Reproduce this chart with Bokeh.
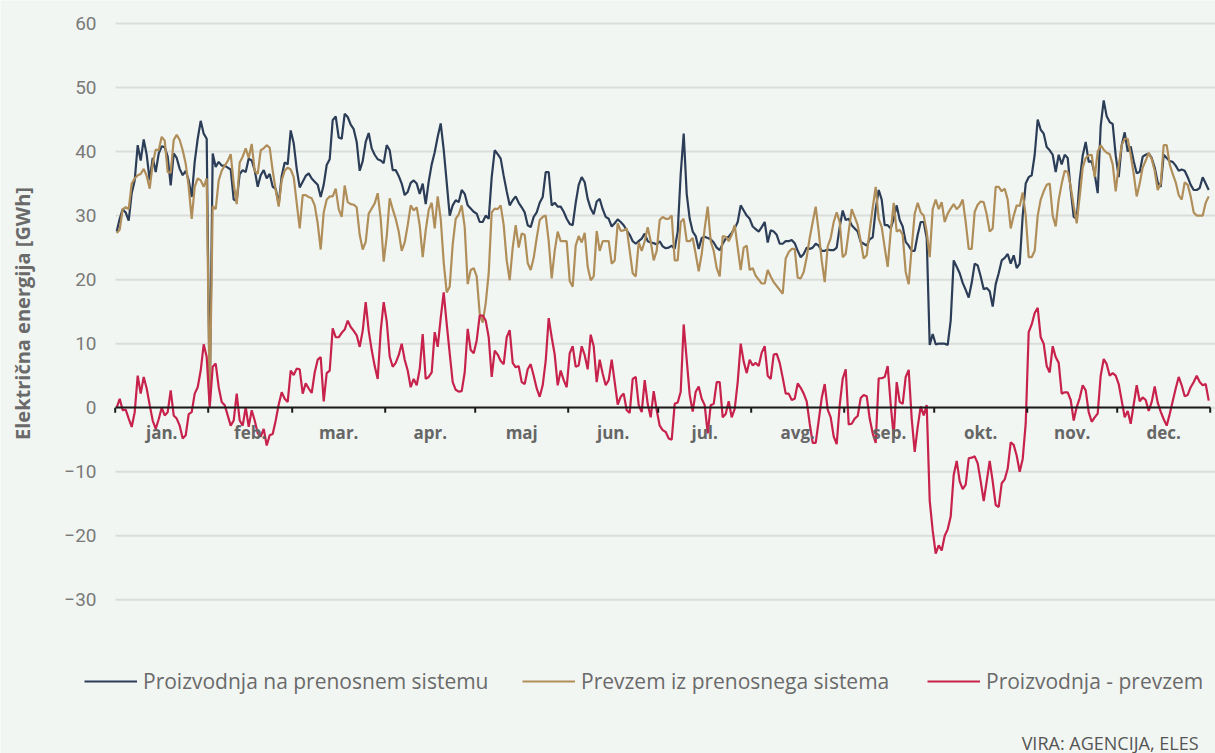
import numpy as np
from bokeh.plotting import figure
from bokeh.models import (Range1d, LinearAxis, FixedTicker, Legend, LegendItem,
                          Label, ColumnDataSource, Grid)
from bokeh.embed import file_html
from bokeh.resources import INLINE

# ---------------- data ----------------
month_names = ["jan.", "feb.", "mar.", "apr.", "maj", "jun.", "jul.", "avg.",
               "sep.", "okt.", "nov.", "dec."]
month_lengths = [31, 28, 31, 30, 31, 30, 31, 31, 30, 31, 30, 31]
y_ticks = [-30, -20, -10, 0, 10, 20, 30, 40, 50, 60]

# Proizvodnja na prenosnem sistemu [GWh], daily
proizvodnja = [
    # jan
    27.5, 29.5, 31.0, 30.5, 29.2, 33.5, 35.5, 41.0, 38.6, 41.9, 39.5, 35.5, 39.0, 36.8, 39.7, 40.8,
    40.7, 39.2, 34.7, 39.7, 39.0, 37.3, 36.3, 37.0, 35.5, 32.9, 38.4, 42.0, 44.8, 42.8, 42.0,
    # feb
    1.0, 39.7, 37.6, 38.4, 37.8, 37.8, 37.5, 37.2, 32.5, 32.3, 36.5, 37.1, 36.8, 38.9, 38.6, 37.1,
    34.5, 36.3, 37.1, 35.8, 36.5, 34.5, 34.2, 31.8, 36.2, 38.3, 38.0, 43.3,
    # mar
    41.3, 37.3, 34.4, 35.3, 36.2, 36.6, 35.8, 35.3, 34.8, 32.9, 34.8, 37.9, 38.8, 44.9, 45.5, 42.2,
    42.0, 45.9, 45.4, 44.2, 43.5, 41.5, 37.0, 38.5, 41.5, 42.9, 40.5, 39.5, 38.8, 38.6, 38.2,
    # apr
    41.0, 40.2, 37.1, 37.1, 36.2, 35.0, 33.2, 33.7, 35.1, 35.5, 35.0, 33.4, 35.0, 31.8, 35.3, 38.0,
    39.9, 42.3, 44.4, 40.3, 35.2, 30.0, 31.6, 32.4, 32.1, 34.0, 33.4, 31.6, 31.1, 30.6,
    # maj
    30.3, 29.0, 29.0, 30.0, 29.5, 36.0, 40.2, 39.6, 38.9, 36.2, 33.8, 31.6, 32.4, 33.0, 32.0, 31.3,
    30.5, 28.5, 28.2, 29.8, 30.5, 32.0, 32.9, 36.8, 36.8, 31.6, 32.0, 31.4, 31.4, 30.6, 29.5,
    # jun
    28.7, 28.5, 32.0, 34.8, 36.0, 35.2, 32.6, 31.1, 30.2, 32.2, 32.6, 31.0, 29.8, 29.5, 28.3, 28.8,
    29.4, 29.0, 28.5, 27.7, 27.0, 26.0, 25.6, 26.0, 26.4, 27.2, 26.0, 25.8, 25.7, 25.5,
    # jul
    26.0, 25.2, 24.9, 25.0, 25.3, 24.8, 27.5, 36.5, 42.8, 33.4, 29.5, 27.5, 26.8, 24.8, 26.5, 26.7,
    26.5, 26.3, 25.8, 25.0, 24.6, 25.6, 26.4, 26.7, 27.3, 28.0, 29.0, 31.6, 30.8, 30.0, 29.5,
    # avg
    28.3, 27.9, 27.5, 28.2, 29.0, 25.8, 27.7, 27.5, 27.0, 25.6, 25.6, 26.0, 26.0, 26.2, 25.7, 24.5,
    23.5, 24.0, 25.0, 24.8, 25.0, 25.6, 25.3, 24.5, 24.5, 24.7, 24.6, 24.6, 25.0, 28.2, 30.8,
    # sep
    29.3, 29.5, 28.5, 28.0, 27.5, 25.9, 25.6, 25.3, 26.3, 26.6, 31.0, 34.0, 32.5, 28.5, 28.5, 28.0,
    29.5, 31.6, 29.3, 28.3, 25.9, 25.3, 24.5, 24.5, 27.0, 29.0, 29.0, 26.5, 9.8, 11.5,
    # okt
    9.9, 10.0, 10.0, 10.0, 9.8, 13.6, 23.0, 22.0, 21.0, 19.5, 18.4, 17.2, 19.5, 22.5, 22.2, 20.5,
    18.5, 18.7, 18.2, 15.8, 19.3, 21.0, 23.0, 23.4, 24.0, 22.5, 23.8, 21.8, 22.5, 30.0, 35.0,
    # nov
    36.0, 36.3, 39.5, 45.0, 43.4, 42.8, 40.7, 40.2, 39.5, 36.8, 39.5, 38.0, 39.5, 39.0, 34.0, 29.8,
    29.5, 35.5, 39.4, 41.5, 38.4, 38.5, 36.5, 33.5, 44.0, 48.0, 45.5, 44.6, 44.3, 39.4,
    # dec
    36.0, 41.0, 43.0, 40.0, 40.8, 38.5, 36.6, 36.8, 39.2, 39.5, 39.7, 39.0, 37.5, 35.2, 34.5, 39.5,
    39.0, 38.5, 38.4, 37.8, 37.0, 37.2, 37.0, 36.0, 34.8, 34.0, 34.0, 34.3, 36.0, 35.0, 34.0,
]

# Prevzem iz prenosnega sistema [GWh], daily
prevzem = [
    # jan
    27.3, 27.8, 31.0, 31.3, 31.0, 35.0, 35.8, 36.3, 36.5, 37.3, 36.2, 34.2, 38.1, 40.3, 40.2, 42.3,
    41.7, 36.8, 36.7, 41.8, 42.6, 41.8, 40.2, 38.1, 34.5, 29.5, 34.5, 35.8, 35.5, 34.5, 35.8,
    # feb
    0.5, 31.5, 31.0, 35.5, 37.0, 37.8, 38.5, 39.6, 35.0, 31.8, 38.3, 39.2, 40.5, 39.0, 41.2, 37.0,
    36.5, 40.2, 40.5, 41.0, 40.6, 37.0, 34.0, 31.4, 35.5, 37.0, 37.5, 37.2,
    # mar
    36.0, 32.0, 28.0, 33.2, 33.2, 32.9, 32.7, 31.6, 28.8, 24.7, 30.5, 32.5, 33.0, 33.0, 34.2, 31.0,
    29.8, 34.7, 32.1, 31.8, 31.7, 31.3, 27.0, 24.7, 25.9, 30.3, 31.1, 31.9, 33.5, 29.5, 22.8,
    # apr
    26.7, 32.7, 31.0, 29.5, 27.5, 24.5, 25.8, 28.5, 31.6, 30.8, 31.3, 28.5, 23.5, 27.7, 30.9, 32.0,
    28.0, 33.0, 29.5, 22.7, 18.0, 18.9, 25.5, 29.5, 30.2, 31.6, 28.2, 19.3, 21.5, 21.8,
    # maj
    20.5, 14.7, 13.3, 16.3, 21.0, 30.5, 31.1, 31.0, 31.6, 28.5, 23.0, 19.9, 25.0, 28.5, 25.0, 27.2,
    27.0, 22.6, 21.5, 23.4, 26.5, 29.3, 29.8, 30.0, 26.0, 20.2, 24.5, 27.5, 26.0, 26.0, 26.0,
    # jun
    19.8, 18.9, 25.3, 26.8, 25.8, 27.3, 22.0, 19.9, 20.5, 27.6, 24.5, 26.0, 26.0, 26.0, 22.5, 23.0,
    28.8, 27.6, 27.7, 28.0, 24.5, 21.0, 20.5, 25.8, 24.5, 26.0, 28.2, 26.0, 23.0, 24.5,
    # jul
    29.3, 29.8, 29.5, 29.5, 30.0, 23.0, 23.0, 29.0, 29.5, 26.0, 26.0, 26.5, 24.0, 21.3, 24.0, 28.0,
    31.4, 26.0, 24.5, 21.8, 20.5, 26.8, 26.7, 26.0, 27.0, 28.5, 25.0, 21.5, 25.0, 25.3, 21.5,
    # avg
    21.8, 20.6, 20.0, 19.4, 19.4, 21.5, 20.5, 19.6, 19.0, 18.4, 17.8, 23.3, 24.3, 24.8, 24.8, 20.3,
    20.2, 21.2, 23.5, 26.5, 29.0, 31.4, 27.5, 23.0, 19.6, 25.2, 26.5, 29.0, 30.5, 29.0, 23.5,
    # sep
    24.0, 27.5, 31.0, 29.8, 28.5, 26.0, 23.3, 23.8, 27.7, 31.2, 34.5, 29.5, 28.2, 25.0, 22.0, 27.5,
    32.0, 27.5, 27.8, 27.0, 21.2, 19.3, 25.0, 30.3, 32.0, 30.5, 30.0, 27.5, 23.5, 31.0,
    # okt
    32.5, 31.0, 32.1, 29.0, 30.3, 31.1, 31.8, 31.0, 31.5, 32.5, 29.0, 24.8, 24.8, 30.6, 31.7, 32.2,
    32.1, 30.2, 27.5, 28.0, 34.5, 34.5, 33.8, 34.2, 32.5, 28.0, 30.0, 31.6, 31.5, 33.6, 30.0,
    # nov
    23.5, 23.5, 24.5, 30.0, 32.5, 33.8, 34.8, 35.0, 30.0, 28.3, 32.5, 35.0, 37.0, 36.8, 34.5, 31.5,
    28.8, 33.0, 37.5, 39.0, 39.4, 39.5, 36.0, 40.0, 41.0, 40.3, 39.8, 39.6, 38.0, 33.8,
    # dec
    37.8, 41.0, 42.0, 42.0, 39.5, 36.5, 33.0, 35.0, 37.5, 38.6, 39.8, 38.8, 37.0, 34.0, 35.0, 41.0,
    41.0, 38.0, 36.5, 35.2, 33.2, 32.5, 35.2, 34.8, 33.0, 30.5, 30.0, 30.0, 30.0, 32.0, 33.0,
]

# Proizvodnja - prevzem [GWh], daily
razlika = [
    # jan
    0.0, 1.4, -0.4, -0.3, -1.7, -3.0, -0.7, 5.0, 2.2, 4.8, 3.0, 0.4, -2.0, -3.3, -1.8, 0.0,
    -1.2, -0.7, 2.7, -1.2, -1.7, -2.8, -4.8, -4.3, -1.0, -0.7, 2.2, 3.2, 5.8, 9.9, 7.9,
    # feb
    0.0, 6.4, 6.9, 3.2, 0.9, 0.4, -1.2, -2.8, -2.0, 2.2, -2.0, -2.8, 0.1, -3.0, -0.4, -2.0,
    -4.0, -4.5, -3.3, -5.9, -4.3, -4.1, -2.0, 0.5, 2.4, 1.4, 0.9, 5.8,
    # mar
    5.1, 6.1, 6.0, 2.2, 3.8, 3.0, 2.3, 5.5, 7.5, 7.9, 1.0, 5.4, 5.8, 12.4, 11.0, 11.0,
    11.7, 12.2, 13.6, 12.6, 12.0, 11.3, 9.5, 12.0, 16.5, 12.0, 9.0, 6.5, 4.5, 12.0, 16.5,
    # apr
    13.5, 8.0, 6.4, 7.0, 8.2, 10.0, 7.5, 5.8, 3.2, 4.5, 3.5, 6.0, 11.5, 4.5, 4.8, 5.5,
    11.8, 9.5, 14.0, 18.0, 13.1, 8.5, 4.0, 2.8, 2.5, 2.6, 5.5, 12.3, 9.0, 8.5,
    # maj
    10.5, 14.4, 14.4, 13.6, 11.0, 4.8, 8.9, 8.3, 7.3, 6.8, 11.0, 12.1, 7.0, 6.3, 6.5, 4.0,
    3.7, 6.0, 6.8, 5.0, 3.0, 1.7, 3.5, 7.3, 14.0, 11.0, 8.3, 3.5, 5.8, 4.3, 3.2,
    # jun
    8.5, 9.6, 6.4, 6.6, 9.6, 8.2, 6.0, 11.4, 9.6, 4.0, 7.5, 5.3, 3.5, 4.3, 7.5, 4.0,
    0.5, 1.7, 2.2, -0.4, -0.8, 4.5, 4.8, 0.4, -0.7, 4.3, 0.6, -1.5, 2.6, -0.4,
    # jul
    -2.8, -3.5, -3.8, -4.8, -5.0, 0.6, 0.8, 2.5, 13.0, 7.5, 2.0, -0.6, 2.5, 3.3, 1.4, 0.4,
    -4.0, 0.4, 0.6, 4.0, 4.0, -1.5, -1.0, 1.0, -1.5, -0.2, 4.0, 10.0, 7.2, 5.4, 7.5,
    # avg
    6.6, 7.0, 6.5, 8.6, 9.6, 5.0, 4.5, 8.3, 8.4, 7.0, 4.7, 2.2, 2.2, 1.2, 1.4, 3.8,
    3.1, 2.2, 1.0, -2.5, -5.5, -5.5, -2.0, 1.5, 3.7, -0.3, -1.5, -4.5, -5.7, 0.4, 4.5,
    # sep
    6.0, -2.6, -2.5, -1.7, -1.3, 1.5, 2.0, 1.8, -1.7, -4.0, -5.5, 4.6, 4.6, 4.8, 6.5, 0.5,
    -4.5, 4.0, 0.9, 0.6, 4.8, 5.9, -1.7, -6.9, -3.0, 0.2, -1.2, 0.4, -14.5, -19.2,
    # okt
    -22.8, -21.5, -22.3, -20.0, -19.0, -17.0, -10.5, -8.3, -11.5, -12.7, -12.0, -7.9, -7.8, -7.6,
    -8.7, -11.5, -14.6, -11.5, -8.3, -11.5, -15.2, -15.5, -11.8, -11.2, -9.5, -5.4, -5.8, -7.5,
    -10.0, -8.0, -2.5,
    # nov
    11.8, 13.0, 14.8, 15.6, 11.0, 10.0, 6.5, 5.5, 9.6, 7.9, 7.0, 2.2, 2.4, 2.4, 1.2, -2.0,
    0.1, 1.5, 3.5, 2.7, -0.7, -2.2, -1.5, -0.9, 5.0, 7.6, 6.8, 5.0, 5.4, 5.0,
    # dec
    3.7, 1.1, -1.5, -0.5, -2.5, 0.5, 3.5, 1.0, 1.6, 1.2, -0.5, 0.9, 3.3, 0.8, -0.6, -1.8,
    -2.8, -1.0, 1.0, 3.0, 4.8, 3.5, 1.8, 2.0, 3.2, 4.0, 5.0, 4.0, 3.5, 3.7, 1.1,
]

series_labels = ["Proizvodnja na prenosnem sistemu", "Prevzem iz prenosnega sistema",
                 "Proizvodnja - prevzem"]
y_title = "Električna energija [GWh]"
source_text = "VIRA: AGENCIJA, ELES"

n_days = sum(month_lengths)
assert len(proizvodnja) == n_days, len(proizvodnja)
assert len(prevzem) == n_days, len(prevzem)
assert len(razlika) == n_days, len(razlika)

# ---------------- styling / layout ----------------
W, H = 1215, 753
BG = "#f2f6f3"
BLUE = "#2c3d57"
GOLD = "#b08e5a"
RED = "#c7224c"
GRID = "#dadddb"
TXT = "#6a6a6a"
FONT = "Open Sans"
PX_PER_DAY = 3.0
PLOT_LEFT_PX = 115          # where the grid starts
X_LEFT = -0.4               # day value at the grid start
x_start = X_LEFT - PLOT_LEFT_PX / PX_PER_DAY
x_end = x_start + W / PX_PER_DAY
y_start, y_end = -54.0, 63.59
px_per_unit = H / (y_end - y_start)

days = np.arange(n_days)
starts = np.concatenate([[0], np.cumsum(month_lengths)])
boundary_ticks = [float(s) - 0.5 for s in starts]
centers = [float(s) + m / 2.0 - 0.5 for s, m in zip(starts[:-1], month_lengths)]

p = figure(width=W, height=H, output_backend="svg", toolbar_location=None,
           x_range=Range1d(x_start, x_end), y_range=Range1d(y_start, y_end),
           x_axis_location=None, y_axis_location=None,
           min_border_left=0, min_border_right=0, min_border_top=0, min_border_bottom=0,
           background_fill_color=BG, border_fill_color=BG, outline_line_color=None)
# drop any default grids
p.center = [r for r in p.center if not isinstance(r, Grid)]

# horizontal grid lines (start at the plot's left edge)
p.segment(x0=[X_LEFT] * len(y_ticks), x1=[x_end] * len(y_ticks), y0=y_ticks, y1=y_ticks,
          line_color=GRID, line_width=2)

# y axis (labels only) anchored at the grid start
yaxis = LinearAxis(ticker=FixedTicker(ticks=y_ticks, minor_ticks=[]), fixed_location=X_LEFT,
                   axis_line_color=None, major_tick_line_color=None, minor_tick_line_color=None,
                   major_tick_in=0, major_tick_out=0,
                   major_label_standoff=19, major_label_text_font="Roboto",
                   major_label_text_font_size="19px", major_label_text_color="#7a7a7a",
                   major_label_overrides={t: str(t).replace("-", "\u2212") for t in y_ticks})
p.add_layout(yaxis, "left")

# y title, centred on the -30..60 span
p.add_layout(Label(x=22, y=H - 313, x_units="screen", y_units="screen", text=y_title,
                   angle=np.pi / 2, text_align="center", text_baseline="middle",
                   text_font=FONT, text_font_style="bold", text_font_size="20px",
                   text_color=TXT))

# data lines
src = ColumnDataSource(dict(day=days, proizvodnja=proizvodnja, prevzem=prevzem, razlika=razlika))
r1 = p.line("day", "proizvodnja", source=src, line_color=BLUE, line_width=2.2)
r2 = p.line("day", "prevzem", source=src, line_color=GOLD, line_width=2.2)
r3 = p.line("day", "razlika", source=src, line_color=RED, line_width=2.2)

# month boundary tick marks below the zero line
tick_len = 5.0 / px_per_unit
p.segment(x0=boundary_ticks, x1=boundary_ticks, y0=[0] * len(boundary_ticks),
          y1=[-tick_len] * len(boundary_ticks), line_color="#1b1b1b", line_width=2)

# x axis drawn at zero with month labels centred in the months
xaxis = LinearAxis(ticker=FixedTicker(ticks=centers, minor_ticks=[]), fixed_location=0,
                   bounds=(boundary_ticks[0], boundary_ticks[-1]),
                   axis_line_color="#1b1b1b", axis_line_width=2,
                   major_tick_line_color=None, minor_tick_line_color=None,
                   major_tick_in=0, major_tick_out=0, major_label_standoff=13,
                   major_label_text_font=FONT, major_label_text_font_style="bold",
                   major_label_text_font_size="17px", major_label_text_color="#666666",
                   major_label_overrides={c: n for c, n in zip(centers, month_names)})
p.add_layout(xaxis, "below")

# legend: three single-item legends placed like the reference
for r, lab, vx in zip([r1, r2, r3], series_labels, [84, 522, 927]):
    lg = Legend(items=[LegendItem(label=lab, renderers=[r])], location=(vx, 58),
                orientation="horizontal", glyph_width=53, glyph_height=20, label_height=20,
                label_standoff=6, padding=0, margin=0, spacing=0,
                background_fill_alpha=0, border_line_color=None,
                label_text_font=FONT, label_text_font_size="21px", label_text_color=TXT)
    p.add_layout(lg)

p.add_layout(Label(x=1198, y=H - 742, x_units="screen", y_units="screen", text=source_text,
                   text_align="right", text_baseline="middle", text_font=FONT,
                   text_font_size="18px", text_color="#555555"))

open("out.html", "w").write(file_html(p, INLINE))
